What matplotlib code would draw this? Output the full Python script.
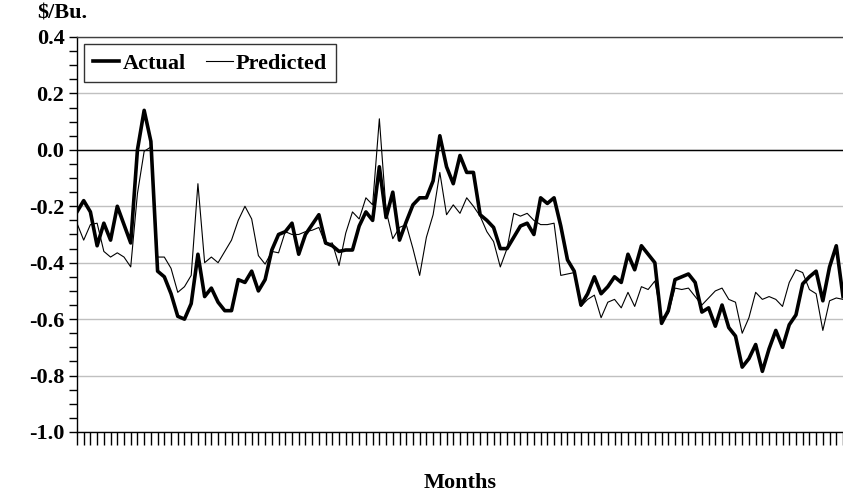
import matplotlib
matplotlib.use('Agg')
import matplotlib.pyplot as plt
from matplotlib.ticker import MultipleLocator

plt.rcParams['font.family'] = 'Liberation Serif'
plt.rcParams['font.weight'] = 'bold'

# monthly basis, $/Bu.
actual = [
    -0.22, -0.18, -0.22, -0.34, -0.26, -0.32, -0.20, -0.265, -0.33, 0.00,
    0.14, 0.03, -0.43, -0.45, -0.51, -0.59, -0.60, -0.545, -0.37, -0.52,
    -0.49, -0.54, -0.57, -0.57, -0.46, -0.47, -0.43, -0.50, -0.46, -0.355,
    -0.30, -0.29, -0.26, -0.37, -0.30, -0.265, -0.23, -0.33,
    -0.34, -0.36, -0.355, -0.355, -0.27, -0.22, -0.25, -0.06, -0.24, -0.15,
    -0.32, -0.255, -0.195, -0.17, -0.17, -0.11, 0.05, -0.06, -0.12,
    -0.02, -0.08, -0.08, -0.23, -0.25, -0.275, -0.35, -0.35, -0.31, -0.27,
    -0.26, -0.30, -0.17, -0.19, -0.17, -0.27, -0.39, -0.43,
    -0.55, -0.51, -0.45, -0.51, -0.485, -0.45, -0.47, -0.37, -0.425, -0.34,
    -0.37, -0.40, -0.615, -0.57, -0.46, -0.45, -0.44, -0.47,
    -0.575, -0.56, -0.625, -0.55, -0.63, -0.66, -0.77, -0.74, -0.69, -0.785,
    -0.705, -0.64, -0.70, -0.62, -0.585, -0.475, -0.45, -0.43, -0.535, -0.415,
    -0.34, -0.52,
]
predicted = [
    -0.26, -0.32, -0.265, -0.26, -0.36, -0.38, -0.365, -0.38, -0.415, -0.155,
    -0.005, 0.01, -0.38, -0.38, -0.42, -0.505, -0.485, -0.445, -0.12, -0.40,
    -0.38, -0.40, -0.36, -0.32, -0.25, -0.20, -0.245, -0.375, -0.405, -0.36,
    -0.365, -0.29, -0.30, -0.30, -0.29, -0.285, -0.275, -0.335,
    -0.33, -0.41, -0.295, -0.22, -0.245, -0.17, -0.195, 0.11, -0.215, -0.315,
    -0.275, -0.265, -0.35, -0.445, -0.31, -0.23, -0.08, -0.23, -0.195,
    -0.225, -0.17, -0.20, -0.235, -0.29, -0.325, -0.415, -0.35, -0.225, -0.235,
    -0.225, -0.25, -0.265, -0.265, -0.26, -0.445, -0.44, -0.435,
    -0.555, -0.53, -0.515, -0.595, -0.54, -0.53, -0.56, -0.505, -0.555, -0.485,
    -0.495, -0.465, -0.595, -0.58, -0.49, -0.495, -0.49, -0.52,
    -0.55, -0.525, -0.50, -0.49, -0.53, -0.54, -0.65, -0.595, -0.505, -0.53,
    -0.52, -0.53, -0.555, -0.47, -0.425, -0.435, -0.495, -0.51, -0.64, -0.535,
    -0.525, -0.53,
]
months = list(range(len(actual)))

fig = plt.figure(figsize=(8.43, 4.97), dpi=100)
ax = fig.add_axes([0.0913, 0.1308, 0.9087, 0.7948])

ax.set_xlim(0, 113.15)
ax.yaxis.set_major_locator(MultipleLocator(0.2))
ax.yaxis.set_minor_locator(MultipleLocator(0.05))
ax.set_xticks(months)
ax.set_xticklabels([])
ax.set_ylim(-1.0, 0.4)
ax.set_yticks([0.4, 0.2, 0.0, -0.2, -0.4, -0.6, -0.8, -1.0])
ax.set_yticklabels(['0.4', '0.2', '0.0', '-0.2', '-0.4', '-0.6', '-0.8', '-1.0'])

ax.grid(axis='y', color='#c0c0c0', linewidth=1)
ax.set_axisbelow(True)
ax.axhline(0, color='black', linewidth=1)

ax.plot(months, actual, color='black', linewidth=2.6, label='Actual')
ax.plot(months, predicted, color='black', linewidth=0.8, label='Predicted')

ax.spines['right'].set_visible(False)
ax.spines['top'].set_color('#404040')
for s in ['top', 'left', 'bottom']:
    ax.spines[s].set_linewidth(1)

ax.tick_params(axis='y', which='major', direction='out', length=6, width=1, labelsize=16, pad=3)
ax.tick_params(axis='y', which='minor', direction='out', length=6, width=1)
ax.tick_params(axis='x', which='major', direction='out', length=9, width=1)

leg = ax.legend(loc='upper left', bbox_to_anchor=(0.009, 0.982), ncol=2,
                frameon=True, fancybox=False, handlelength=1.2, handletextpad=0.15,
                columnspacing=0.9, borderpad=0.4, borderaxespad=0.0,
                prop={'weight': 'bold', 'size': 16})
leg.get_frame().set_edgecolor('black')
leg.get_frame().set_linewidth(1)

fig.text(37 / 843, 1 - 13 / 497, '$/Bu.', fontsize=16, fontweight='bold', va='center', ha='left')
fig.text(460 / 843, 1 - 483 / 497, 'Months', fontsize=16, fontweight='bold', va='center', ha='center')

fig.savefig('out.png', dpi=100)
